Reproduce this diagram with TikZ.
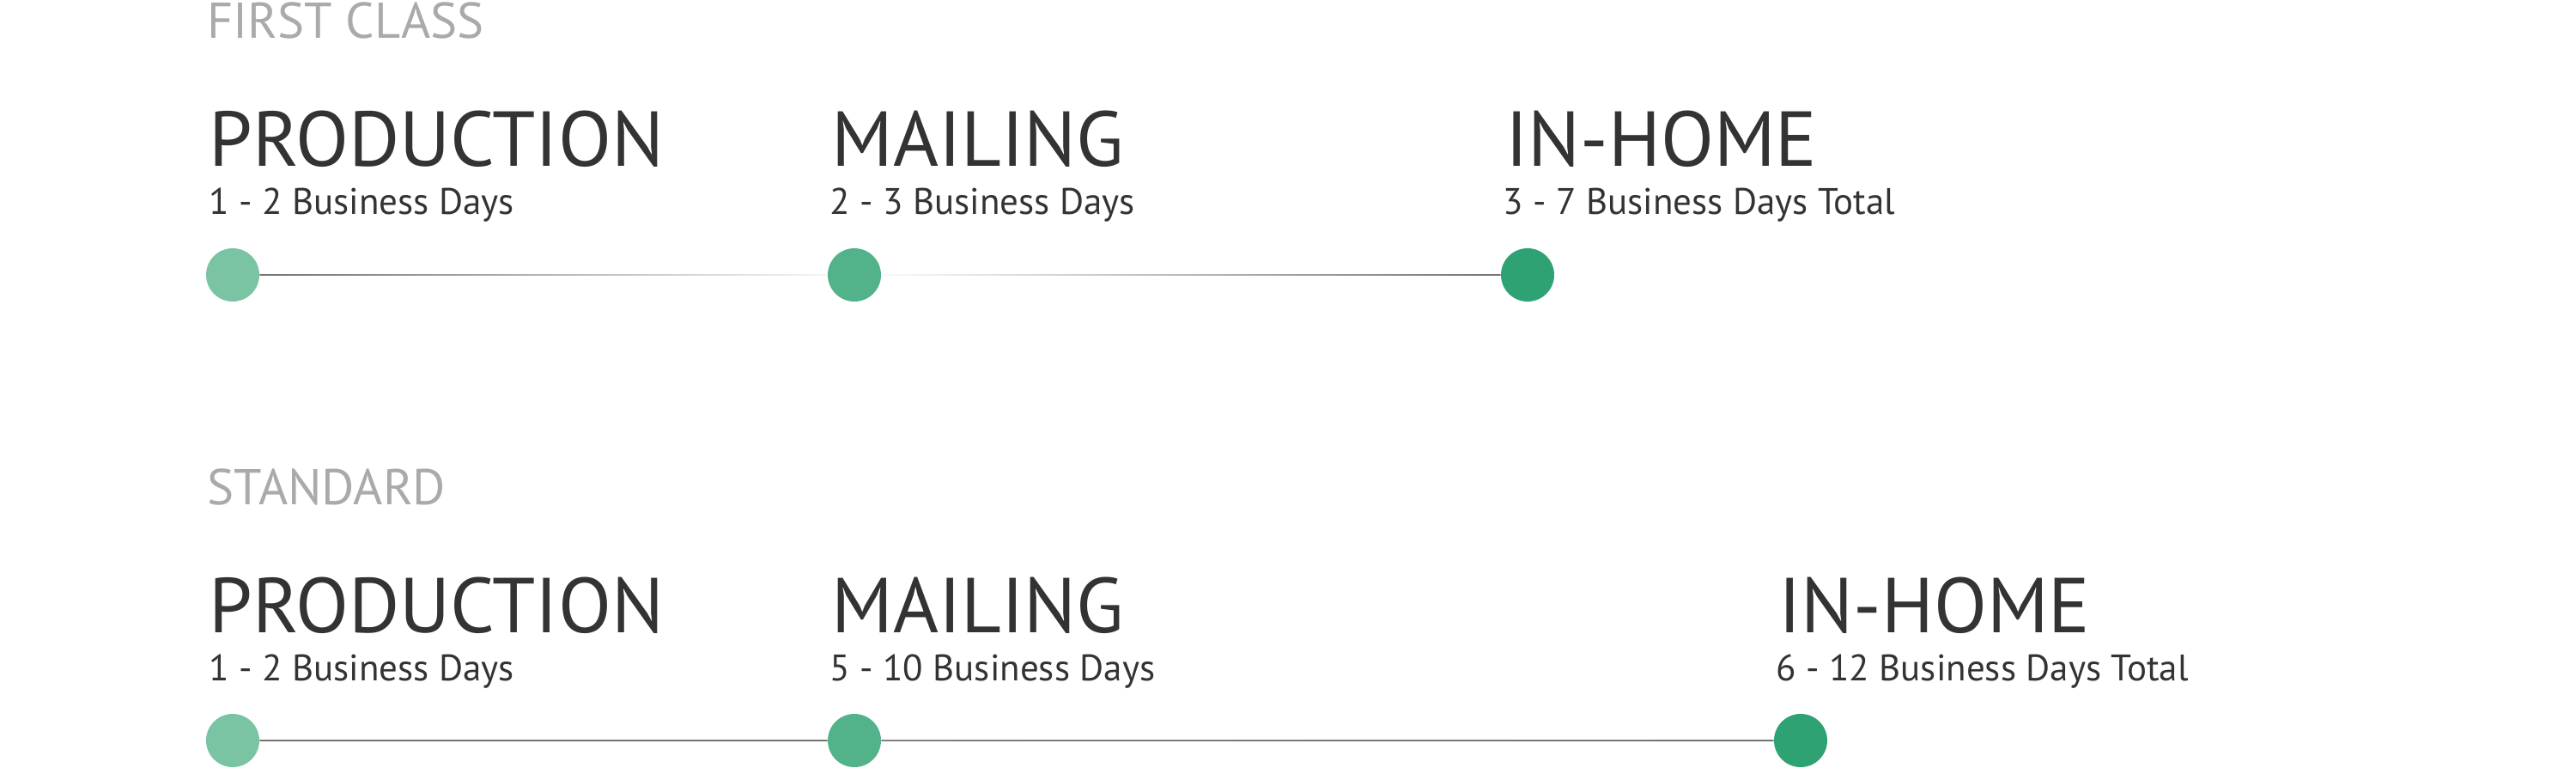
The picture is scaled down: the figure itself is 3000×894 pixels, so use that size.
\documentclass[tikz,border=0pt]{standalone}
\usepackage{fontspec}
\setmainfont{PT Sans}
\usepackage{tikz}
\usetikzlibrary{calc,positioning}
\definecolor{txtdark}{HTML}{333333}
\definecolor{txtgray}{HTML}{AAAAAA}
\definecolor{dotA}{HTML}{7AC4A4}
\definecolor{dotB}{HTML}{52B28A}
\definecolor{dotC}{HTML}{2FA274}
\tikzset{%
	group/.style    = {anchor=base west, inner sep=0, text=txtgray, font=\fontsize{29.3}{30}\selectfont},
	stage/.style    = {anchor=base west, inner sep=0, text=txtdark, font=\fontsize{45.3}{46}\selectfont},
	days/.style     = {anchor=base west, inner sep=0, text=txtdark, font=\fontsize{21.5}{22}\selectfont},
	dot/.style      = {circle, inner sep=0, minimum size=31pt},
}
\newcommand{\fadeline}[4]{% from, to, left colour, right colour
	\shade[left color=#3, right color=#4] ($(#1.east)+(0,-0.8)$) rectangle ($(#2.west)+(0,0.8)$);}

\begin{document}
\begin{tikzpicture}[x=0.5pt, y=-0.5pt]
	\useasboundingbox (0,0) rectangle (3000,894);

	% first class
	\node[group] (fc) at (241,44) {FIRST CLASS};
	\node[stage] (fcP) at (243,193) {PRODUCTION};
	\node[days]  (fcPd) at (243,249) {1 - 2 Business Days};
	\node[stage] (fcM) at (968,193) {MAILING};
	\node[days]  (fcMd) at (966,249) {2 - 3 Business Days};
	\node[stage] (fcH) at (1753,193) {IN-HOME};
	\node[days]  (fcHd) at (1750,249) {3 - 7 Business Days Total};
	\node[dot, fill=dotA] (fc1) at (271,320) {};
	\node[dot, fill=dotB] (fc2) at (995,320) {};
	\node[dot, fill=dotC] (fc3) at (1779,320) {};

	\fadeline{fc1}{fc2}{black!55}{black!4}
	\fadeline{fc2}{fc3}{black!2}{black!55}

	% standard
	\node[group] (st) at (241,587) {STANDARD};
	\node[stage] (stP) at (243,736) {PRODUCTION};
	\node[days]  (stPd) at (243,792) {1 - 2 Business Days};
	\node[stage] (stM) at (968,736) {MAILING};
	\node[days]  (stMd) at (966,792) {5 - 10 Business Days};
	\node[stage] (stH) at (2071,736) {IN-HOME};
	\node[days]  (stHd) at (2068,792) {6 - 12 Business Days Total};
	\node[dot, fill=dotA] (st1) at (271,862) {};
	\node[dot, fill=dotB] (st2) at (995,862) {};
	\node[dot, fill=dotC] (st3) at (2097,862) {};

	\shade[left color=black!55, middle color=black!35, right color=black!55] ($(st1.east)+(0,-0.8)$) rectangle ($(st2.west)+(0,0.8)$);
	\shade[left color=black!50, middle color=black!7, right color=black!55] ($(st2.east)+(0,-0.8)$) rectangle ($(st3.west)+(0,0.8)$);
\end{tikzpicture}
\end{document}
